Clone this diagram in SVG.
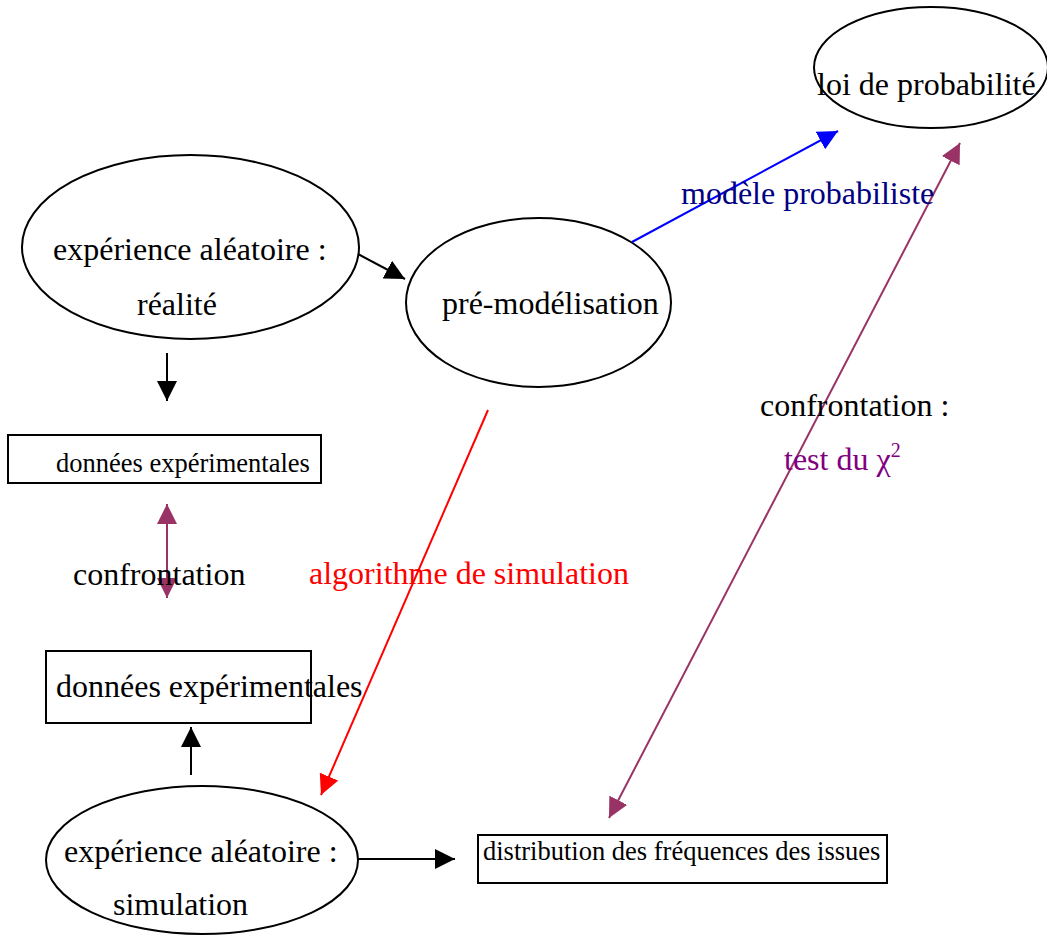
<svg xmlns="http://www.w3.org/2000/svg" width="1047" height="935" viewBox="0 0 1047 935">
<style>
text{font-family:"Liberation Serif","Times New Roman",serif;font-size:32px;fill:#000}
.sm{font-size:26.5px}
.node{fill:#fff;stroke:#000;stroke-width:2}
.k{stroke:#000;stroke-width:2;fill:none}
</style>
<defs>
<marker id="ak" markerUnits="userSpaceOnUse" markerWidth="20" markerHeight="20" viewBox="0 0 20 20" refX="20" refY="10" orient="auto-start-reverse"><path d="M0,0 L20,10 L0,20 Z" fill="#000"/></marker>
<marker id="ab" markerUnits="userSpaceOnUse" markerWidth="20" markerHeight="20" viewBox="0 0 20 20" refX="20" refY="10" orient="auto-start-reverse"><path d="M0,0 L20,10 L0,20 Z" fill="#0000ff"/></marker>
<marker id="ar" markerUnits="userSpaceOnUse" markerWidth="20" markerHeight="20" viewBox="0 0 20 20" refX="20" refY="10" orient="auto-start-reverse"><path d="M0,0 L20,10 L0,20 Z" fill="#ff0000"/></marker>
<marker id="ap" markerUnits="userSpaceOnUse" markerWidth="20" markerHeight="20" viewBox="0 0 20 20" refX="20" refY="10" orient="auto-start-reverse"><path d="M0,0 L20,10 L0,20 Z" fill="#993366"/></marker>
</defs>
<rect width="1047" height="935" fill="#fff"/>
<g id="n-realite"><ellipse class="node" cx="190.5" cy="247" rx="168.5" ry="92"/><text x="53" y="260">expérience aléatoire :</text><text x="137" y="315">réalité</text></g>
<g id="n-premod"><ellipse class="node" cx="538.5" cy="302.5" rx="132.5" ry="84.5"/><text x="442" y="314">pré-modélisation</text></g>
<g id="n-loi"><ellipse class="node" cx="931" cy="67.5" rx="117" ry="60.5"/><text x="817" y="95">loi de probabilité</text></g>
<g id="n-donnees1"><rect class="node" x="8" y="435" width="313" height="48"/><text class="sm" x="56" y="472">données expérimentales</text></g>
<g id="n-donnees2"><rect class="node" x="46" y="651" width="265" height="72"/><text x="56" y="697">données expérimentales</text></g>
<g id="n-simulation"><ellipse class="node" cx="202" cy="860" rx="156" ry="74"/><text x="64" y="862">expérience aléatoire :</text><text x="113" y="915">simulation</text></g>
<g id="n-distribution"><rect class="node" x="478" y="835" width="409" height="48"/><text class="sm" x="483" y="860">distribution des fréquences des issues</text></g>
<g id="connectors">
<line class="k" x1="358" y1="254" x2="405" y2="279" marker-end="url(#ak)"/>
<line class="k" x1="167" y1="353" x2="167" y2="401" marker-end="url(#ak)"/>
<line class="k" x1="191" y1="775" x2="191" y2="727" marker-end="url(#ak)"/>
<line class="k" x1="358" y1="859" x2="455" y2="859" marker-end="url(#ak)"/>
<line x1="632" y1="242" x2="838" y2="131" stroke="#0000ff" stroke-width="2" marker-end="url(#ab)"/>
<line x1="488" y1="410" x2="321" y2="795" stroke="#ff0000" stroke-width="2" marker-end="url(#ar)"/>
<line x1="167" y1="504" x2="167" y2="598" stroke="#993366" stroke-width="2" marker-start="url(#ap)" marker-end="url(#ap)"/>
<line x1="960" y1="143" x2="609" y2="818" stroke="#993366" stroke-width="2" marker-start="url(#ap)" marker-end="url(#ap)"/>
</g>
<g id="labels">
<text x="681" y="204" style="fill:#000080">modèle probabiliste</text>
<text x="309" y="584" style="fill:#ff0000">algorithme de simulation</text>
<text x="73" y="585">confrontation</text>
<text x="760" y="416">confrontation :</text>
<text x="784" y="470" style="fill:#800080">test du χ<tspan font-size="20" dy="-13">2</tspan></text>
</g>
</svg>
